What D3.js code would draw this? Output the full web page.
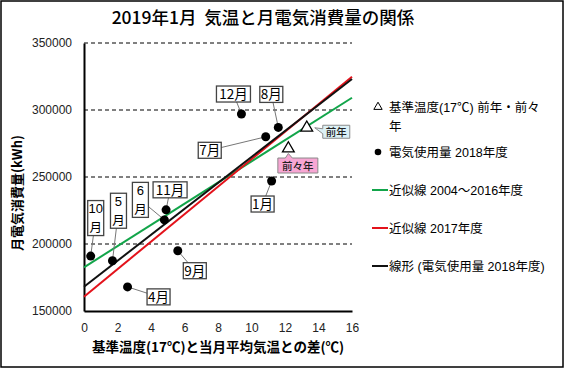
<!DOCTYPE html>
<html>
<head>
<meta charset="utf-8">
<script src="https://cdn.jsdelivr.net/npm/d3@7"></script>
<style>
  body { margin: 0; background: #fff; }
  text { font-family: "Liberation Sans", "Noto Sans CJK JP", sans-serif; }
</style>
</head>
<body>
<svg width="564" height="368"></svg>
<script>
// data
var months = ["4月", "5月", "6月", "7月", "8月", "9月", "10月", "11月", "12月", "1月"];
var tempDiff = [2.6, 1.7, 4.8, 10.85, 11.6, 5.6, 0.4, 4.9, 9.4, 11.2];
var usage = [168000, 187500, 218000, 280000, 287000, 195000, 191000, 225500, 297000, 247000];

var refNames = ["前年", "前々年"];
var refTemp = [13.3, 12.2];
var refUsage = [287500, 272000];

var trendNames = ["近似線 2004～2016年度", "近似線 2017年度", "線形 (電気使用量 2018年度)"];
var trendIntercepts = [182600, 160700, 168100];
var trendSlopes = [7910, 10260, 9690];

var xTicks = [0, 2, 4, 6, 8, 10, 12, 14, 16];
var yTicks = [150000, 200000, 250000, 300000, 350000];

// styling / layout
var trendColors = ["#12a54a", "#e3121b", "#111"];
var jp = "'Noto Sans CJK JP', sans-serif";

// callout box offsets from each dot (px) and whether text is stacked
var labelOffsets = [[31, 10], [6, -50], [-24, -20], [-56, 13.5], [-7, -33], [17, 20], [5, -38], [4, -20], [-8, -20], [-9, 23]];
var stacked = ["5月", "6月", "10月"];

var svg = d3.select("svg");

svg.append("rect")
    .attr("x", 1).attr("y", 1).attr("width", 562).attr("height", 366)
    .attr("fill", "#fff").attr("stroke", "#000").attr("stroke-width", 1.5);

var x = d3.scaleLinear().domain([0, 16]).range([84, 352]),
    y = d3.scaleLinear().domain([150000, 350000]).range([311, 43]);

svg.append("text")
    .attr("x", 263).attr("y", 24)
    .attr("text-anchor", "middle")
    .style("font-family", jp)
    .style("font-size", "17.5px")
    .style("font-weight", "500")
    .text("2019年1月\u00a0\u00a0気温と月電気消費量の関係");

// dashed grid
svg.append("g").selectAll("line")
    .data(yTicks.slice(1))
    .enter().append("line")
    .attr("x1", x(0)).attr("x2", x(16))
    .attr("y1", function(d) { return y(d); })
    .attr("y2", function(d) { return y(d); })
    .attr("stroke", "#000")
    .attr("stroke-dasharray", "4,3");

var yAxis = svg.append("g")
    .attr("transform", "translate(" + x(0) + ",0)")
    .call(d3.axisLeft(y).tickValues(yTicks).tickSize(0).tickPadding(12).tickFormat(d3.format("d")));
yAxis.select(".domain").attr("stroke", "#000").attr("stroke-width", 2);
yAxis.selectAll("text").style("font-size", "12px").attr("fill", "#222");

var xAxis = svg.append("g")
    .attr("transform", "translate(0," + y(150000) + ")")
    .call(d3.axisBottom(x).tickValues(xTicks).tickSize(0).tickPadding(12));
xAxis.select(".domain").attr("stroke", "#000").attr("stroke-width", 2);
xAxis.selectAll("text").style("font-size", "12px").attr("fill", "#222");

svg.append("text")
    .attr("transform", "translate(22,193) rotate(-90)")
    .attr("text-anchor", "middle")
    .style("font-family", jp)
    .style("font-size", "13px")
    .style("font-weight", "bold")
    .text("月電気消費量(kWh)");

svg.append("text")
    .attr("x", 218).attr("y", 352)
    .attr("text-anchor", "middle")
    .style("font-family", jp)
    .style("font-size", "13.5px")
    .style("font-weight", "bold")
    .text("基準温度(17℃)と当月平均気温との差(℃)");

// trend lines
trendNames.forEach(function(name, i) {
  var pts = [0, 16].map(function(t) { return [x(t), y(trendIntercepts[i] + trendSlopes[i] * t)]; });
  svg.append("line")
      .attr("x1", pts[0][0]).attr("y1", pts[0][1])
      .attr("x2", pts[1][0]).attr("y2", pts[1][1])
      .attr("stroke", trendColors[i])
      .attr("stroke-width", 2);
});

var pts = months.map(function(m, i) { return {m: m, t: tempDiff[i], v: usage[i], off: labelOffsets[i]}; });

// leader lines
svg.append("g").selectAll("line")
    .data(pts)
    .enter().append("line")
    .attr("x1", function(d) { return x(d.t); })
    .attr("y1", function(d) { return y(d.v); })
    .attr("x2", function(d) { return x(d.t) + d.off[0]; })
    .attr("y2", function(d) { return y(d.v) + d.off[1]; })
    .attr("stroke", "#777");

svg.append("g").selectAll("circle")
    .data(pts)
    .enter().append("circle")
    .attr("cx", function(d) { return x(d.t); })
    .attr("cy", function(d) { return y(d.v); })
    .attr("r", 4.5)
    .attr("fill", "#000");

// month callouts
var lab = svg.append("g").selectAll("g")
    .data(pts)
    .enter().append("g")
    .attr("transform", function(d) { return "translate(" + (x(d.t) + d.off[0]) + "," + (y(d.v) + d.off[1]) + ")"; });

lab.each(function(d) {
  var g = d3.select(this);
  var st = stacked.indexOf(d.m) >= 0;
  var num = d.m.replace("月", "");
  var w = st ? 16 : (num.length > 1 ? 34 : 23), h = st ? 35 : 16;
  g.append("rect")
      .attr("x", -w / 2).attr("y", -h / 2).attr("width", w).attr("height", h)
      .attr("fill", "#fff").attr("stroke", "#444").attr("stroke-width", 1.3);
  if (st) {
    g.append("text").attr("y", -5).attr("text-anchor", "middle")
        .style("font-size", "13px").style("font-family", "'Liberation Sans', sans-serif").text(num);
    g.append("text").attr("y", 14).attr("text-anchor", "middle")
        .style("font-size", "12.5px").style("font-family", jp).text("月");
  } else {
    g.append("text").attr("y", 5).attr("text-anchor", "middle")
        .style("font-size", "13.5px").style("font-family", jp).text(d.m);
  }
});

// reference triangles
var tri = d3.symbol().type(d3.symbolTriangle).size(60);
refNames.forEach(function(n, i) {
  svg.append("path")
      .attr("d", tri())
      .attr("transform", "translate(" + x(refTemp[i]) + "," + (y(refUsage[i]) + 1) + ")")
      .attr("fill", "#fff").attr("stroke", "#000").attr("stroke-width", 1.3);
});

// callouts for the triangles
function callout(cx, cy, w, h, side, tx, ty, fill, label) {
  var x0 = cx - w / 2, x1 = cx + w / 2, y0 = cy - h / 2, y1 = cy + h / 2, p;
  if (side === "left") {
    p = "M" + x0 + "," + y0 + "H" + x1 + "V" + y1 + "H" + x0 + "V" + (cy + 2) + "L" + tx + "," + ty + "L" + x0 + "," + (cy - 3) + "Z";
  } else {
    p = "M" + x0 + "," + y0 + "H" + (tx - 3) + "L" + tx + "," + ty + "L" + (tx + 4) + "," + y0 + "H" + x1 + "V" + y1 + "H" + x0 + "Z";
  }
  svg.append("path").attr("d", p).attr("fill", fill).attr("stroke", "#8a8a8a");
  svg.append("text").attr("x", cx).attr("y", cy + 4).attr("text-anchor", "middle")
      .style("font-family", jp).style("font-size", "10.5px").style("font-weight", "500")
      .attr("fill", "#222").text(label);
}
callout(x(refTemp[0]) + 29.5, y(refUsage[0]) + 5, 27, 13, "left", x(refTemp[0]) + 8, y(refUsage[0]) + 1, "#dcf1f6", refNames[0]);
callout(x(refTemp[1]) + 9.5, y(refUsage[1]) + 18, 40, 15, "top", x(refTemp[1]), y(refUsage[1]) + 6, "#f7a6d3", refNames[1]);

// legend
var legend = svg.append("g").attr("transform", "translate(372,0)")
    .style("font-family", jp).style("font-size", "12.5px");

legend.append("path").attr("d", d3.symbol().type(d3.symbolTriangle).size(30)())
    .attr("transform", "translate(6,107)")
    .attr("fill", "#fff").attr("stroke", "#000");
legend.append("text").attr("x", 17).attr("y", 112).text("基準温度(17℃) 前年・前々");
legend.append("text").attr("x", 17).attr("y", 131).text("年");

legend.append("circle").attr("cx", 6).attr("cy", 152).attr("r", 3.3).attr("fill", "#000");
legend.append("text").attr("x", 17).attr("y", 157).text("電気使用量 2018年度");

trendNames.forEach(function(n, i) {
  var yy = 190 + i * 38;
  legend.append("line").attr("x1", 0).attr("x2", 16).attr("y1", yy).attr("y2", yy)
      .attr("stroke", trendColors[i]).attr("stroke-width", 2);
  legend.append("text").attr("x", 17).attr("y", yy + 5).text(n);
});
</script>
</body>
</html>
